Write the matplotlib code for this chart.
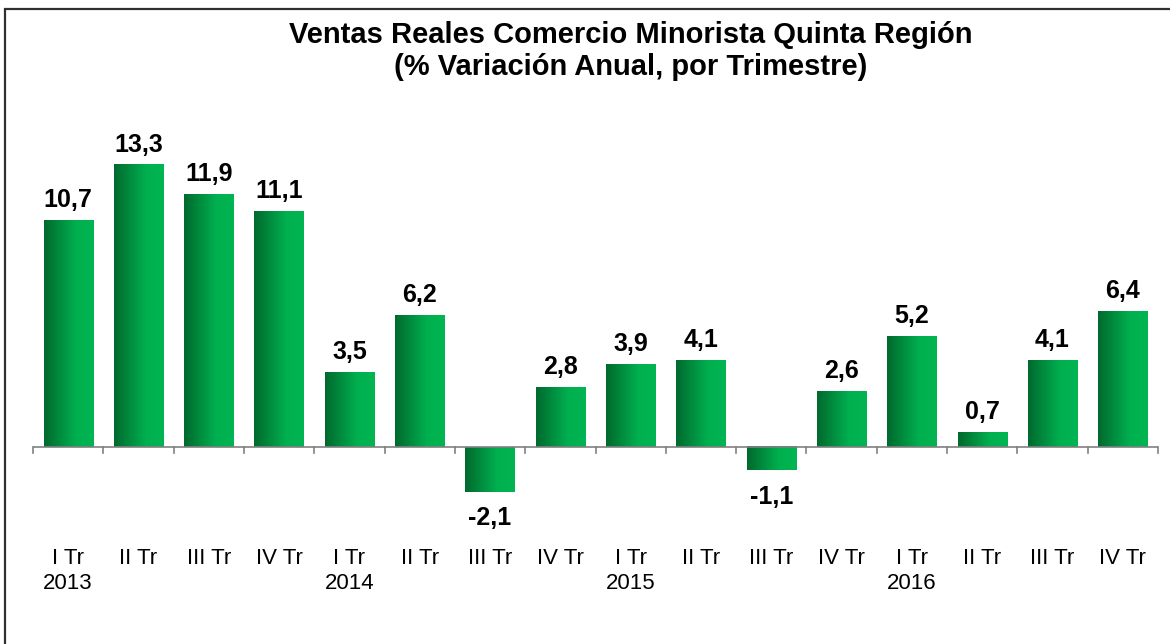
import numpy as np
import matplotlib
matplotlib.use("Agg")
import matplotlib.pyplot as plt
from matplotlib.colors import LinearSegmentedColormap
from matplotlib.patches import Rectangle

plt.rcParams['font.family'] = ['Liberation Sans', 'DejaVu Sans']

# datos
trimestres = ["I Tr", "II Tr", "III Tr", "IV Tr"] * 4
anios = ["2013", "", "", "", "2014", "", "", "", "2015", "", "", "", "2016", "", "", ""]
valores = [10.7, 13.3, 11.9, 11.1, 3.5, 6.2, -2.1, 2.8, 3.9, 4.1, -1.1, 2.6, 5.2, 0.7, 4.1, 6.4]
etiquetas = [t + ("\n" + a if a else "") for t, a in zip(trimestres, anios)]

W, H = 1170, 644
fig = plt.figure(figsize=(W / 100, H / 100), dpi=100)
ax = fig.add_axes([33 / W, 1 - 520 / H, (1158 - 33) / W, 390 / H])

# degradado horizontal verde oscuro -> verde claro
cmap = LinearSegmentedColormap.from_list("verde", [(0, "#006A2E"), (0.65, "#00B04F"), (1, "#00B551")])
grad = np.linspace(0, 1, 64).reshape(1, -1)

x = np.arange(len(valores))
ancho = 0.7
for xi, v in zip(x, valores):
    ax.imshow(grad, cmap=cmap, aspect="auto", extent=[xi - ancho / 2, xi + ancho / 2, min(0, v), max(0, v)],
              zorder=2, interpolation="bilinear")
    txt = f"{v:.1f}".replace(".", ",")
    if v >= 0:
        ax.text(xi, v + 0.4, txt, ha="center", va="bottom", fontsize=18, fontweight="bold")
    else:
        ax.text(xi, v - 0.7, txt, ha="center", va="top", fontsize=18, fontweight="bold")

ax.set_xlim(-0.5, len(valores) - 0.5)
ax.set_ylim(-3.44, 14.95)
ax.axhline(0, color="#808080", linewidth=1.2, zorder=3)

# ticks en los bordes de cada categoria
for b in np.arange(-0.5, len(valores), 1):
    ax.plot([b, b], [0, -0.3], color="#808080", linewidth=1.2, zorder=3, clip_on=False)

for xi, lab in zip(x, etiquetas):
    ax.text(xi, -4.75, lab, ha="center", va="top", fontsize=16, linespacing=1.25)

ax.axis("off")

fig.text(0.5393, 1 - 51 / H, "Ventas Reales Comercio Minorista Quinta Región\n(% Variación Anual, por Trimestre)",
         ha="center", va="center", fontsize=21, fontweight="bold", linespacing=1.2)

# marco del grafico
fig.patches.append(Rectangle((4.5 / W, -0.1), 1.2, 1 - 9.5 / H + 0.1, transform=fig.transFigure,
                             fill=False, edgecolor="#303030", linewidth=1.6))

fig.savefig("out.png", dpi=100)
